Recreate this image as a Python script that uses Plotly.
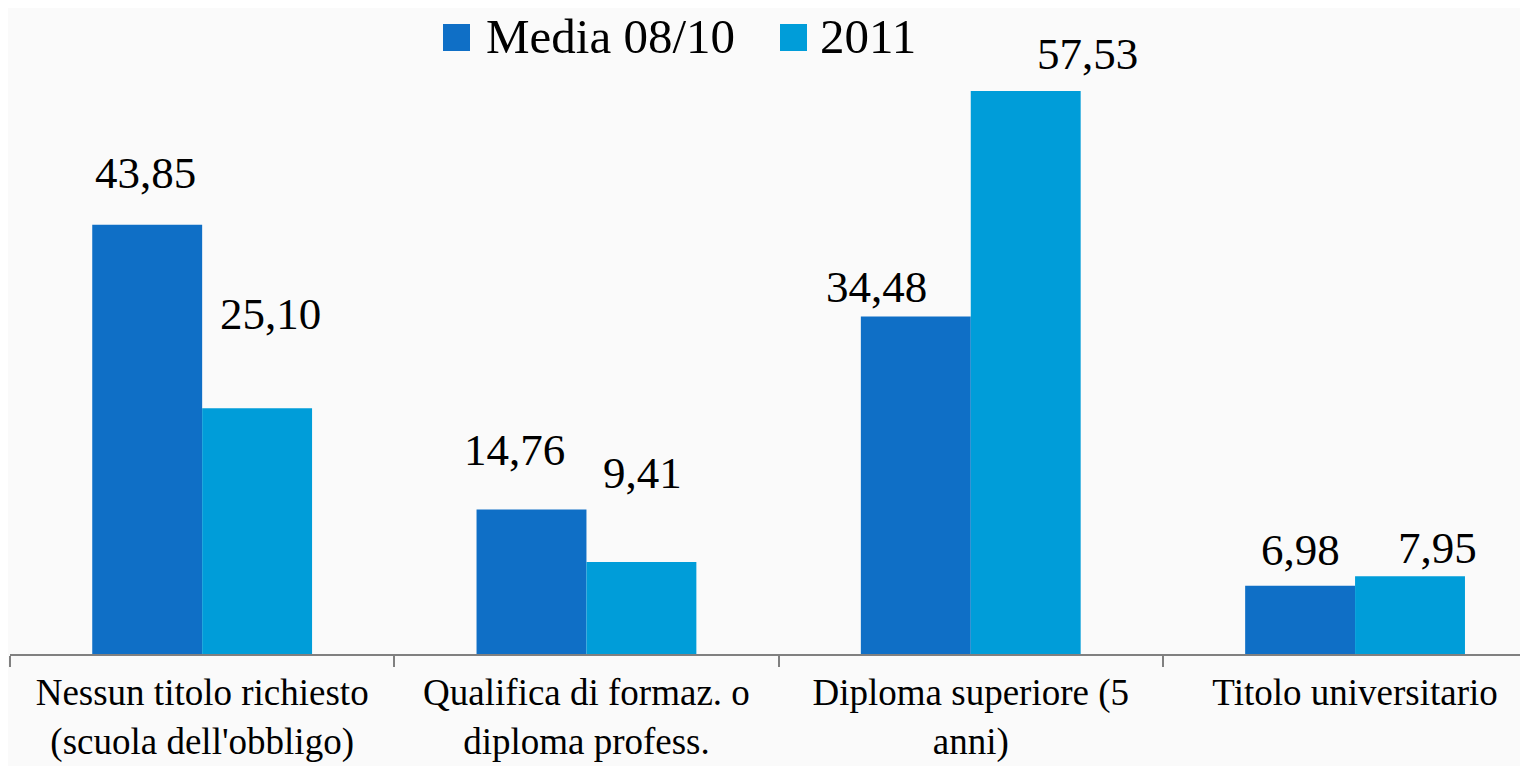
import plotly.graph_objects as go

categories = [
    "Nessun titolo richiesto<br>(scuola dell'obbligo)",
    "Qualifica di formaz. o<br>diploma profess.",
    "Diploma superiore (5<br>anni)",
    "Titolo universitario",
]
series_names = ["Media 08/10", "2011"]
media_0810 = [43.85, 14.76, 34.48, 6.98]
anno_2011 = [25.10, 9.41, 57.53, 7.95]

COLORS = ["#0F6FC6", "#009DD9"]
FONT = "Liberation Serif, DejaVu Serif, serif"

W, H = 1520, 758          # page adds an 8px body margin
L, R, T, B = 2, 0, 0, 112

# label offsets (px) relative to the bar centre / top, as placed in the original
label_shift = {
    "Media 08/10": [(-2, 52), (-17, 60), (-39, 30), (0, 36)],
    "2011": [(13, 94), (1, 89), (62, 37), (27, 28)],
}


def fmt(v):
    return f"{v:.2f}".replace(".", ",")


def px(fx):
    return (fx - L) / (W - L - R)


def py(fy):
    return 1 - (fy - T) / (H - T - B)


fig = go.Figure()
for name, vals, col in zip(series_names, [media_0810, anno_2011], COLORS):
    fig.add_trace(go.Bar(
        name=name, x=categories, y=vals,
        marker_color=col, marker_line_width=0,
        showlegend=False,
    ))

bar_px = 55
for i, (name, vals) in enumerate(zip(series_names, [media_0810, anno_2011])):
    side = -bar_px if i == 0 else bar_px
    for cat, v, (dx, dy) in zip(categories, vals, label_shift[name]):
        fig.add_annotation(
            x=cat, y=v, text=fmt(v), showarrow=False,
            xshift=side + dx, yshift=dy, yanchor="middle",
            font=dict(family=FONT, size=45, color="#000000"),
        )

# legend drawn by hand so the swatches can be as big as in the original
legend_items = [(435, 476), (772, 810)]
for (sq_x, txt_x), name, col in zip(legend_items, series_names, COLORS):
    fig.add_shape(
        type="rect", xref="paper", yref="paper",
        x0=px(sq_x), x1=px(sq_x + 27), y0=py(43), y1=py(16),
        fillcolor=col, line_width=0,
    )
    fig.add_annotation(
        xref="paper", yref="paper", x=px(txt_x), y=py(29),
        xanchor="left", yanchor="middle", showarrow=False, text=name,
        font=dict(family=FONT, size=49, color="#000000"),
    )

fig.update_layout(
    width=W, height=H,
    paper_bgcolor="#fafafa",
    plot_bgcolor="rgba(0,0,0,0)",
    margin=dict(l=L, r=R, t=T, b=B),
    barmode="group",
    bargap=0.428,
    bargroupgap=0,
    showlegend=False,
    font=dict(family=FONT, size=37, color="#000000"),
    xaxis=dict(
        range=[-0.5, 3.45],
        showline=True, linecolor="#808080", linewidth=2,
        ticks="outside", tickson="boundaries", ticklen=11,
        tickcolor="#808080", tickwidth=2,
        tickfont=dict(family=FONT, size=37),
        ticklabelstandoff=5,
        automargin=False,
        showgrid=False, zeroline=False,
    ),
    yaxis=dict(range=[0, 66.0], visible=False, showgrid=False),
)

fig.write_html("out.html")
